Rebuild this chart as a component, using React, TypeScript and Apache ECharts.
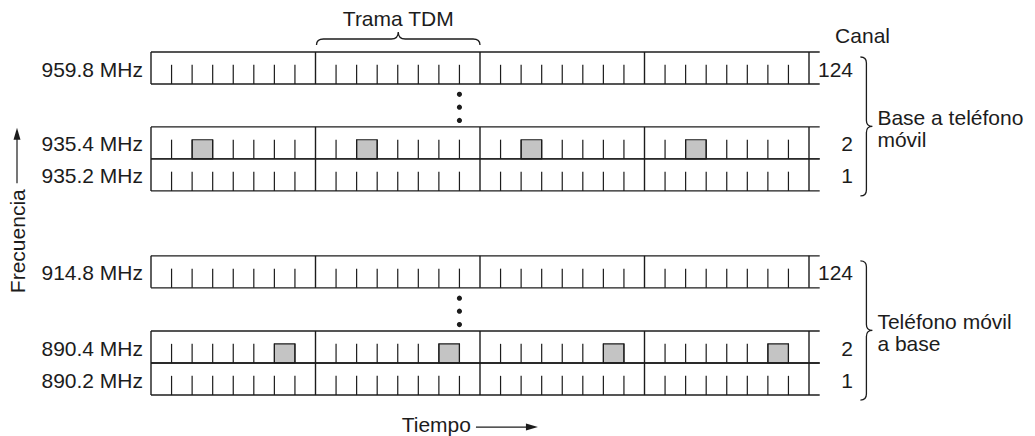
import React, { useEffect, useRef } from "react";
import * as echarts from "echarts";

// ---- data ----
const frequencyLabels = ["959.8 MHz", "935.4 MHz", "935.2 MHz", "914.8 MHz", "890.4 MHz", "890.2 MHz"];
const channelLabels = ["124", "2", "1", "124", "2", "1"];
// top of each carrier row, in row-height units (frequency axis, top = highest)
const rowTops = [0, 2.34, 3.34, 6.37, 8.72, 9.72];
// active time slot (0-based) inside every TDM frame, -1 = idle carrier
const activeSlots = [-1, 2, -1, -1, 6, -1];
const FRAMES = 4;
const SLOTS_PER_FRAME = 8;
// direction groups: [first row, last row]
const groupRows = [
  [0, 2],
  [3, 5],
];
const groupLabels = [
  ["Base a teléfono", "móvil"],
  ["Teléfono móvil", "a base"],
];
const dotSlot = 15; // column where the continuation dots sit
const tdmFrameIndex = 1; // frame marked with the "Trama TDM" brace
const captions = { frame: "Trama TDM", channel: "Canal", time: "Tiempo", freq: "Frecuencia" };

const INK = "#1c1c1c";
const SHADE = "#c4c4c4";
const FONT = '"Liberation Sans", Arial, Helvetica, sans-serif';
const FS = 21;
const TOTAL = FRAMES * SLOTS_PER_FRAME;
const TICK = 0.6;

const txt = (text: string, x: number, y: number, align: string, extra: any = {}) => ({
  type: "text",
  x,
  y,
  ...extra,
  style: { text, fill: INK, fontSize: FS, fontFamily: FONT, align, verticalAlign: "middle", lineHeight: 22 },
});
const ln = (x1: number, y1: number, x2: number, y2: number, w = 1.3) => ({
  type: "line",
  shape: { x1, y1, x2, y2 },
  style: { stroke: INK, lineWidth: w },
});

export default function App() {
  const ref = useRef<HTMLDivElement>(null);
  useEffect(() => {
    if (!ref.current) return;
    const chart = echarts.init(ref.current, null, { renderer: "svg" });
    const rowIdx = frequencyLabels.map((_, i) => i);

    chart.setOption({
      animation: false,
      backgroundColor: "#ffffff",
      grid: { left: 151, right: 226, top: 52, height: 352 },
      xAxis: { type: "value", min: 0, max: TOTAL, show: false },
      yAxis: { type: "value", min: 0, max: 11, inverse: true, show: false },
      series: [
        {
          type: "custom",
          clip: false,
          silent: true,
          data: rowIdx,
          renderItem: (params: any, api: any) => {
            const i = params.dataIndex;
            const top = rowTops[i];
            const bot = top + 1;
            const [x0, yT] = api.coord([0, top]);
            const [xE, yB] = api.coord([TOTAL + 0.52, bot]);
            const yTick = api.coord([0, bot - TICK])[1];
            const ch: any[] = [];
            const act = activeSlots[i];
            if (act >= 0) {
              for (let f = 0; f < FRAMES; f++) {
                const s = f * SLOTS_PER_FRAME + act;
                const xa = api.coord([s, 0])[0];
                const xb = api.coord([s + 1, 0])[0];
                ch.push({
                  type: "rect",
                  shape: { x: xa, y: yTick, width: xb - xa, height: yB - yTick },
                  style: { fill: SHADE, stroke: INK, lineWidth: 1.1 },
                });
              }
            }
            ch.push(ln(x0, yT, xE, yT, 1.4), ln(x0, yB, xE, yB, 1.4));
            for (let s = 0; s <= TOTAL; s++) {
              const x = api.coord([s, 0])[0];
              if (s % SLOTS_PER_FRAME === 0) ch.push(ln(x, yT, x, yB, 1.4));
              else ch.push(ln(x, yTick, x, yB, 1.2));
            }
            ch.push(txt(frequencyLabels[i], x0 - 8, (yT + yB) / 2 + 1, "right"));
            const xc = api.coord([TOTAL + 2.14, 0])[0];
            ch.push(txt(channelLabels[i], xc, (yT + yB) / 2 + 1, "right"));
            return { type: "group", children: ch };
          },
        },
        {
          type: "custom",
          clip: false,
          silent: true,
          data: [0, 1],
          renderItem: (params: any, api: any) => {
            const g = params.dataIndex;
            const [r0, r1] = groupRows[g];
            const ch: any[] = [];
            // continuation dots between first row and the next
            const yA = api.coord([0, rowTops[r0] + 1])[1];
            const yBn = api.coord([0, rowTops[r0 + 1]])[1];
            const xd = api.coord([dotSlot, 0])[0];
            [0.24, 0.54, 0.85].forEach((t) =>
              ch.push({ type: "circle", shape: { cx: xd, cy: yA + (yBn - yA) * t, r: 2.6 }, style: { fill: INK } })
            );
            // right curly brace
            const xe = api.coord([TOTAL + 2.5, 0])[0];
            const xm = xe + 6;
            const xt = xe + 12;
            const y1 = api.coord([0, rowTops[r0]])[1] + 5;
            const y2 = api.coord([0, rowTops[r1] + 1])[1] + 5;
            const ym = (y1 + y2) / 2;
            const r = 6;
            const d = `M${xe},${y1} Q${xm},${y1} ${xm},${y1 + r} L${xm},${ym - r} Q${xm},${ym} ${xt},${ym} Q${xm},${ym} ${xm},${ym + r} L${xm},${y2 - r} Q${xm},${y2} ${xe},${y2}`;
            ch.push({ type: "path", shape: { pathData: d }, style: { stroke: INK, lineWidth: 1.3, fill: null } });
            ch.push(txt(groupLabels[g].join("\n"), xt + 5, ym + 2, "left"));
            return { type: "group", children: ch };
          },
        },
        {
          type: "custom",
          clip: false,
          silent: true,
          data: [0],
          renderItem: (params: any, api: any) => {
            const ch: any[] = [];
            // "Trama TDM" brace over one frame
            const xa = api.coord([tdmFrameIndex * SLOTS_PER_FRAME, 0])[0] + 1;
            const xb = api.coord([(tdmFrameIndex + 1) * SLOTS_PER_FRAME, 0])[0];
            const y0 = api.coord([0, 0])[1];
            const ye = y0 - 7;
            const ymd = y0 - 13;
            const ytp = y0 - 20;
            const xc = (xa + xb) / 2;
            const r = 7;
            const d = `M${xa},${ye} Q${xa},${ymd} ${xa + r},${ymd} L${xc - r},${ymd} Q${xc},${ymd} ${xc},${ytp} Q${xc},${ymd} ${xc + r},${ymd} L${xb - r},${ymd} Q${xb},${ymd} ${xb},${ye}`;
            ch.push({ type: "path", shape: { pathData: d }, style: { stroke: INK, lineWidth: 1.3, fill: null } });
            ch.push(txt(captions.frame, xc, y0 - 34, "center"));
            // Canal caption
            ch.push(txt(captions.channel, api.coord([TOTAL + 1.27, 0])[0], y0 - 17, "left"));
            // Tiempo caption + arrow
            const yBottom = api.coord([0, rowTops[rowTops.length - 1] + 1])[1];
            const xT = api.coord([15.56, 0])[0];
            const yTm = yBottom + 29;
            ch.push(txt(captions.time, xT, yTm, "right"));
            const ya = yTm + 3;
            ch.push(ln(xT + 5, ya, xT + 60, ya, 1.2));
            ch.push({
              type: "polygon",
              shape: { points: [[xT + 67, ya], [xT + 55, ya - 3.5], [xT + 55, ya + 3.5]] },
              style: { fill: INK },
            });
            // Frecuencia caption + arrow
            const xF = 17;
            const yF1 = api.coord([0, 2.4])[1];
            const yF2 = api.coord([0, 4.1])[1];
            ch.push(ln(xF, yF2, xF, yF1 + 8, 1.2));
            ch.push({
              type: "polygon",
              shape: { points: [[xF, yF1 - 1], [xF - 3.5, yF1 + 11], [xF + 3.5, yF1 + 11]] },
              style: { fill: INK },
            });
            ch.push(txt(captions.freq, xF, yF2 + 58, "center", { rotation: Math.PI / 2 }));
            return { type: "group", children: ch };
          },
        },
      ],
    });
    return () => chart.dispose();
  }, []);
  return (
    <div
      ref={ref}
      style={{ position: "absolute", left: 0, top: 0, width: 1035, height: 436, background: "#fff" }}
    />
  );
}
